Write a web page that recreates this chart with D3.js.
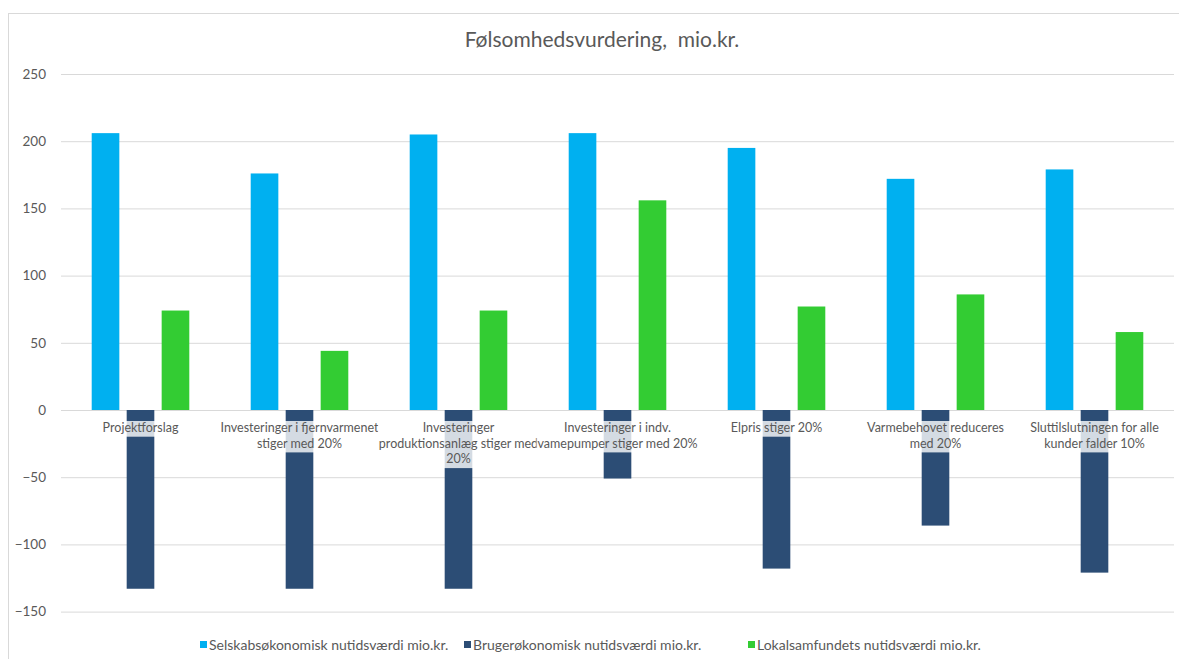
<!DOCTYPE html>
<html>
<head>
<meta charset="utf-8">
<script src="https://cdn.jsdelivr.net/npm/d3@7"></script>
<style>
  body { margin: 0; background: #fff; }
  text { font-family: Lato, "Open Sans", sans-serif; }
</style>
</head>
<body>
<div id="mount"></div>
<script>
// category labels, already broken into lines as in the original
var categories = [
  ['Projektforslag'],
  ['Investeringer i fjernvarmenet', 'stiger med 20%'],
  ['Investeringer', 'produktionsanlæg stiger med', '20%'],
  ['Investeringer i indv.', 'vamepumper stiger med 20%'],
  ['Elpris stiger 20%'],
  ['Varmebehovet reduceres', 'med 20%'],
  ['Sluttilslutningen for alle', 'kunder falder 10%']
];
var seriesNames = [
  'Selskabsøkonomisk nutidsværdi mio.kr.',
  'Brugerøkonomisk nutidsværdi mio.kr.',
  'Lokalsamfundets nutidsværdi mio.kr.'
];
var selskab = [206, 176, 205, 206, 195, 172, 179];
var bruger = [-133, -133, -133, -51, -118, -86, -121];
var lokal = [74, 44, 74, 156, 77, 86, 58];
var yTicks = [-150, -100, -50, 0, 50, 100, 150, 200, 250];
var colors = ['#00b0f0', '#2c4d75', '#33cc33'];

var W = 1179, H = 659;
var svg = d3.select('#mount').append('svg')
    .attr('width', W)
    .attr('height', H);

// chart frame
svg.append('rect')
    .attr('x', 8.5).attr('y', 13.5)
    .attr('width', W).attr('height', H)
    .attr('fill', 'none')
    .attr('stroke', '#d9d9d9');

svg.append('text')
    .attr('x', 602).attr('y', 47)
    .attr('text-anchor', 'middle')
    .attr('font-size', 21)
    .attr('fill', '#595959')
    .style('white-space', 'pre')
    .text('Følsomhedsvurdering,  mio.kr.');

var left = 61, right = 1174;
var y = d3.scaleLinear().domain([-150, 250]).range([611.6, 74]);

var x0 = d3.scaleBand()
    .domain(d3.range(categories.length))
    .range([left, right])
    .paddingInner(0.34)
    .paddingOuter(0.17);

var x1 = d3.scaleBand()
    .domain(d3.range(3))
    .range([0, x0.bandwidth()])
    .paddingInner(0.21)
    .paddingOuter(0.105);

// gridlines + y labels
var yAxis = svg.append('g')
    .attr('transform', `translate(${left},0)`)
    .call(d3.axisLeft(y).tickValues(yTicks).tickSize(-(right - left)).tickPadding(15));
yAxis.select('.domain').remove();
yAxis.selectAll('.tick line').attr('stroke', '#d9d9d9');
yAxis.selectAll('.tick text')
    .attr('fill', '#595959')
    .attr('font-size', 13.5)
    .style('font-family', 'Lato, sans-serif');

// bars
var rows = categories.map((c, i) => [selskab[i], bruger[i], lokal[i]]);
var groups = svg.selectAll('.grp')
    .data(rows)
  .enter().append('g')
    .attr('class', 'grp')
    .attr('transform', (d, i) => `translate(${x0(i)},0)`);

groups.selectAll('rect')
    .data(d => d.map((v, k) => ({ v: v, k: k })))
  .enter().append('rect')
    .attr('x', d => x1(d.k))
    .attr('width', x1.bandwidth())
    .attr('y', d => y(Math.max(0, d.v)))
    .attr('height', d => Math.abs(y(d.v) - y(0)))
    .attr('fill', d => colors[d.k]);

// category labels with translucent white background
var labels = svg.selectAll('.cat')
    .data(categories)
  .enter().append('g')
    .attr('class', 'cat');

labels.each(function(lines, i) {
  var g = d3.select(this);
  var cx = x0(i) + x0.bandwidth() / 2;
  var bg = g.append('rect');
  var t = g.append('text')
      .attr('text-anchor', 'middle')
      .attr('font-size', 12.5)
      .attr('fill', '#595959');
  lines.forEach((l, j) => {
    t.append('tspan').attr('x', cx).attr('y', 432 + j * 15.7).text(l);
  });
  var b = t.node().getBBox();
  bg.attr('x', b.x - 1).attr('y', 421)
    .attr('width', b.width + 2)
    .attr('height', lines.length * 15.7)
    .attr('fill', '#fff')
    .attr('fill-opacity', 0.8);
});

// legend
var legendX = [200, 464, 748];
var legend = svg.selectAll('.leg')
    .data(seriesNames)
  .enter().append('g')
    .attr('class', 'leg')
    .attr('transform', (d, i) => `translate(${legendX[i]},645)`);
legend.append('rect')
    .attr('x', 0).attr('y', -4)
    .attr('width', 7).attr('height', 7)
    .attr('fill', (d, i) => colors[i]);
legend.append('text')
    .attr('x', 9).attr('y', 4.5)
    .attr('font-size', 14)
    .attr('fill', '#595959')
    .text(d => d);
</script>
</body>
</html>
